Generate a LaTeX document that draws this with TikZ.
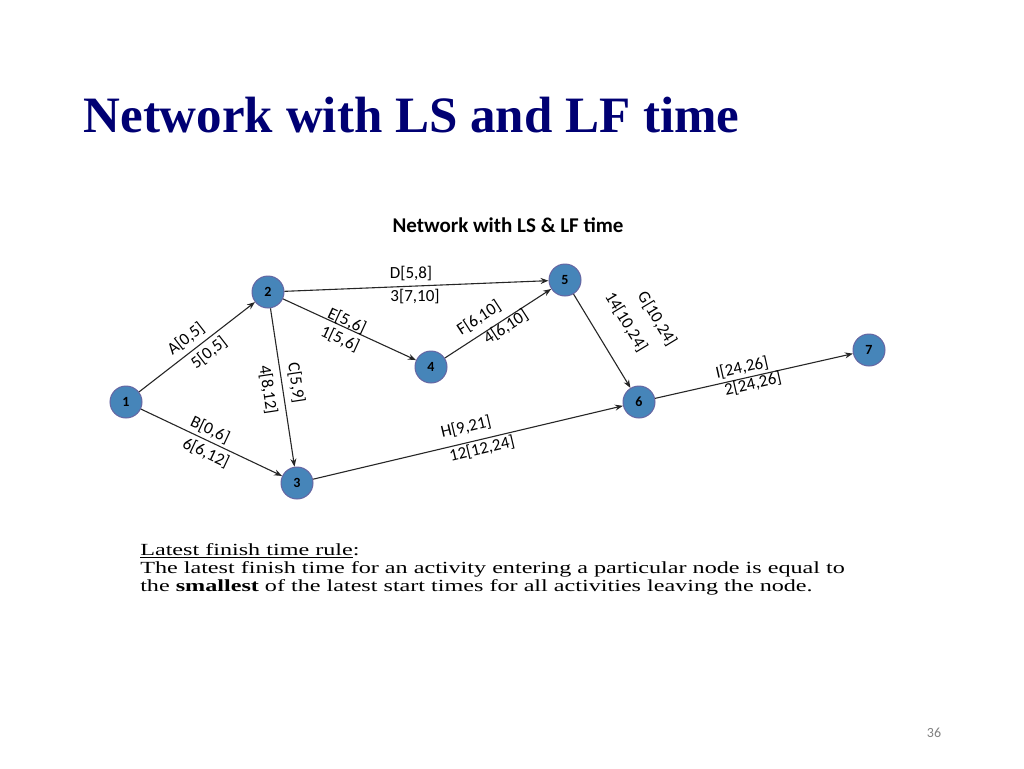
\documentclass[tikz,border=0pt]{standalone}
\usepackage{fontspec}
\setmainfont{Liberation Serif}
\newfontfamily\lab{Carlito}
\usetikzlibrary{arrows.meta}
\begin{document}
\begin{tikzpicture}[x=1pt,y=-1pt,
  nd/.style={circle,draw=black!60!blue!60,fill=blue!45!cyan!45!gray,line width=1pt,minimum size=32pt,inner sep=0pt,font=\lab\bfseries\fontsize{14}{14}\selectfont},
  ed/.style={-{Stealth[length=8pt,width=6pt]},line width=1.1pt,black!85},
  lb/.style={font=\lab\fontsize{17}{17}\selectfont,inner sep=0pt}]
\useasboundingbox (0,0) rectangle (1024,768);
\node[anchor=west,text=blue!45!black,font=\bfseries\fontsize{51}{51}\selectfont] (title) at (80,115) {Network with LS and LF time};
\node[font=\lab\bfseries\fontsize{21}{21}\selectfont] (sub) at (508,225) {Network with LS \& LF time};
\node[nd] (n1) at (126,402) {1};
\node[nd] (n2) at (268,292) {2};
\node[nd] (n3) at (297,483) {3};
\node[nd] (n4) at (431,367) {4};
\node[nd] (n5) at (565,280) {5};
\node[nd] (n6) at (639,402) {6};
\node[nd] (n7) at (869,350) {7};
\draw[ed] (n1) -- (n2);
\draw[ed] (n1) -- (n3);
\draw[ed] (n2) -- (n3);
\draw[ed] (n2) -- (n4);
\draw[ed] (n2) -- (n5);
\draw[ed] (n4) -- (n5);
\draw[ed] (n5) -- (n6);
\draw[ed] (n3) -- (n6);
\draw[ed] (n6) -- (n7);
\node[lb,rotate=37.8] (la1) at (186,339) {A[0,5]};
\node[lb,rotate=37.8] (la2) at (209,353) {5[0,5]};
\node[lb,rotate=-25.3] (lb1) at (210,430) {B[0,6]};
\node[lb,rotate=-25.3] (lb2) at (206,453) {6[6,12]};
\node[lb,rotate=-81.4] (lc1) at (296,383) {C[5,9]};
\node[lb,rotate=-81.4] (lc2) at (268,390) {4[8,12]};
\node[lb] (ld1) at (411,274) {D[5,8]};
\node[lb] (ld2) at (415,297) {3[7,10]};
\node[lb,rotate=-24.7] (le1) at (347,321) {E[5,6]};
\node[lb,rotate=-24.7] (le2) at (340,339) {1[5,6]};
\node[lb,rotate=33] (lf1) at (479,318) {F[6,10]};
\node[lb,rotate=33] (lf2) at (506,327) {4[6,10]};
\node[lb,rotate=-58.8] (lg1) at (657,319) {G[10,24]};
\node[lb,rotate=-58.8] (lg2) at (626,322) {14[10,24]};
\node[lb,rotate=13.3] (lh1) at (466,427) {H[9,21]};
\node[lb,rotate=13.3] (lh2) at (482,449) {12[12,24]};
\node[lb,rotate=12.7] (li1) at (742,368) {I[24,26]};
\node[lb,rotate=12.7] (li2) at (753,384) {2[24,26]};
\node[anchor=north west,align=left,inner sep=0pt,xscale=1.42,font=\fontsize{17}{18}\selectfont] (rule) at (140,543)
 {\underline{Latest finish time rule}:\\
  The latest finish time for an activity entering a particular node is equal to\\
  the \textbf{smallest} of the latest start times for all activities leaving the node.};
\node[text=black!50,font=\lab\fontsize{14}{14}\selectfont] (pg) at (934,733) {36};
\end{tikzpicture}
\end{document}
